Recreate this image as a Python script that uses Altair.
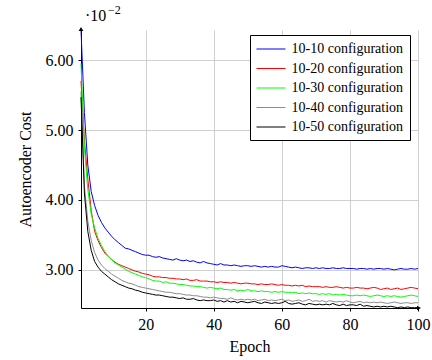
import altair as alt
import pandas as pd

epochs = list(range(1, 101))
series_names = ["10-10 configuration", "10-20 configuration", "10-30 configuration",
                "10-40 configuration", "10-50 configuration"]
series_colors = ["#0000ff", "#ff0000", "#00ff00", "#8c8c8c", "#000000"]

# values in units of 1e-2
cost_10_10 = [6.43, 5.25, 4.50, 4.12, 3.92, 3.78, 3.68, 3.60, 3.54, 3.48,
              3.43, 3.39, 3.35, 3.31, 3.30, 3.28, 3.26, 3.24, 3.22, 3.21,
              3.21, 3.19, 3.18, 3.19, 3.17, 3.16, 3.15, 3.14, 3.16, 3.14,
              3.13, 3.14, 3.12, 3.13, 3.11, 3.10, 3.12, 3.10, 3.09, 3.08,
              3.07, 3.09, 3.07, 3.07, 3.06, 3.07, 3.06, 3.05, 3.06, 3.06,
              3.05, 3.06, 3.05, 3.04, 3.05, 3.04, 3.05, 3.04, 3.04, 3.06,
              3.05, 3.04, 3.03, 3.04, 3.03, 3.02, 3.03, 3.03, 3.02, 3.03,
              3.02, 3.03, 3.02, 3.02, 3.03, 3.02, 3.02, 3.03, 3.02, 3.02,
              3.02, 3.01, 3.02, 3.02, 3.01, 3.02, 3.01, 3.02, 3.02, 3.01,
              3.02, 3.01, 3.00, 3.01, 3.02, 3.01, 3.01, 3.02, 3.01, 3.02]
cost_10_20 = [5.70, 4.85, 4.30, 3.85, 3.55, 3.42, 3.32, 3.24, 3.19, 3.15,
              3.11, 3.08, 3.06, 3.04, 3.02, 3.00, 2.98, 2.97, 2.95, 2.94,
              2.93, 2.91, 2.90, 2.90, 2.89, 2.89, 2.88, 2.88, 2.87, 2.87,
              2.86, 2.87, 2.85, 2.85, 2.86, 2.84, 2.84, 2.84, 2.83, 2.83,
              2.82, 2.83, 2.82, 2.82, 2.81, 2.82, 2.81, 2.80, 2.81, 2.81,
              2.80, 2.80, 2.79, 2.80, 2.79, 2.79, 2.80, 2.79, 2.78, 2.79,
              2.78, 2.78, 2.77, 2.78, 2.77, 2.78, 2.76, 2.77, 2.76, 2.76,
              2.76, 2.75, 2.76, 2.75, 2.75, 2.76, 2.75, 2.74, 2.75, 2.74,
              2.74, 2.75, 2.74, 2.74, 2.73, 2.74, 2.75, 2.74, 2.72, 2.73,
              2.74, 2.72, 2.73, 2.74, 2.72, 2.73, 2.74, 2.75, 2.74, 2.73]
cost_10_30 = [5.95, 4.75, 4.15, 3.80, 3.60, 3.45, 3.35, 3.26, 3.20, 3.14,
              3.10, 3.07, 3.04, 3.01, 2.98, 2.96, 2.94, 2.92, 2.90, 2.89,
              2.87, 2.85, 2.84, 2.84, 2.82, 2.83, 2.81, 2.81, 2.80, 2.79,
              2.79, 2.78, 2.77, 2.77, 2.76, 2.76, 2.75, 2.74, 2.75, 2.74,
              2.73, 2.74, 2.72, 2.72, 2.71, 2.72, 2.70, 2.71, 2.70, 2.72,
              2.70, 2.70, 2.69, 2.70, 2.69, 2.69, 2.68, 2.69, 2.68, 2.69,
              2.68, 2.68, 2.67, 2.68, 2.66, 2.67, 2.66, 2.67, 2.66, 2.66,
              2.65, 2.66, 2.65, 2.66, 2.64, 2.65, 2.64, 2.65, 2.64, 2.63,
              2.63, 2.64, 2.63, 2.64, 2.63, 2.62, 2.63, 2.64, 2.63, 2.62,
              2.63, 2.62, 2.63, 2.62, 2.61, 2.62, 2.63, 2.64, 2.63, 2.62]
cost_10_40 = [5.55, 4.20, 3.70, 3.42, 3.25, 3.14, 3.07, 3.02, 2.98, 2.94,
              2.91, 2.88, 2.85, 2.83, 2.81, 2.80, 2.78, 2.76, 2.75, 2.74,
              2.73, 2.72, 2.71, 2.70, 2.69, 2.68, 2.68, 2.67, 2.66, 2.66,
              2.65, 2.64, 2.64, 2.63, 2.63, 2.62, 2.61, 2.61, 2.60, 2.61,
              2.60, 2.59, 2.59, 2.58, 2.60, 2.58, 2.57, 2.58, 2.57, 2.58,
              2.57, 2.58, 2.56, 2.57, 2.58, 2.56, 2.57, 2.56, 2.57, 2.58,
              2.56, 2.57, 2.55, 2.56, 2.57, 2.55, 2.56, 2.58, 2.55, 2.56,
              2.55, 2.56, 2.54, 2.56, 2.55, 2.54, 2.55, 2.54, 2.56, 2.54,
              2.53, 2.54, 2.55, 2.53, 2.54, 2.53, 2.54, 2.53, 2.54, 2.53,
              2.52, 2.53, 2.54, 2.53, 2.52, 2.53, 2.53, 2.52, 2.53, 2.53]
cost_10_50 = [5.47, 4.10, 3.55, 3.28, 3.12, 3.04, 2.98, 2.94, 2.90, 2.86,
              2.83, 2.80, 2.78, 2.76, 2.74, 2.73, 2.71, 2.70, 2.68, 2.67,
              2.66, 2.65, 2.64, 2.64, 2.63, 2.62, 2.61, 2.61, 2.60, 2.59,
              2.60, 2.58, 2.58, 2.59, 2.57, 2.56, 2.57, 2.56, 2.56, 2.57,
              2.55, 2.56, 2.54, 2.56, 2.54, 2.55, 2.53, 2.55, 2.54, 2.53,
              2.54, 2.55, 2.53, 2.52, 2.54, 2.53, 2.52, 2.53, 2.52, 2.53,
              2.55, 2.52, 2.51, 2.52, 2.53, 2.51, 2.50, 2.52, 2.51, 2.50,
              2.51, 2.50, 2.51, 2.50, 2.52, 2.50, 2.49, 2.51, 2.49, 2.50,
              2.50, 2.49, 2.51, 2.48, 2.49, 2.48, 2.47, 2.48, 2.47, 2.48,
              2.47, 2.48, 2.47, 2.46, 2.47, 2.46, 2.47, 2.46, 2.46, 2.46]

x_ticks = [20, 40, 60, 80, 100]
y_ticks = [3, 4, 5, 6]

all_series = [cost_10_10, cost_10_20, cost_10_30, cost_10_40, cost_10_50]
rows = []
for i, (name, vals) in enumerate(zip(series_names, all_series)):
    for e, v in zip(epochs, vals):
        rows.append({"epoch": e, "cost": v, "config": name, "idx": i})
df = pd.DataFrame(rows)

W, H = 337, 278
FONT = "Liberation Serif"

lines = alt.Chart(df).mark_line(strokeWidth=1).encode(
    x=alt.X("epoch:Q",
            scale=alt.Scale(domain=[1, 100], nice=False, zero=False),
            axis=alt.Axis(values=x_ticks, title="Epoch", format="d", labelFlush=False)),
    y=alt.Y("cost:Q",
            scale=alt.Scale(domain=[2.455, 6.43], nice=False, zero=False),
            axis=alt.Axis(values=y_ticks, format=".2f", title="Autoencoder Cost",
                          labelFlush=False)),
    color=alt.Color("config:N",
                    scale=alt.Scale(domain=series_names, range=series_colors),
                    sort=series_names,
                    legend=alt.Legend(title=None, orient="none", legendX=169, legendY=5,
                                      symbolType="M-2,0L2,0", symbolSize=210,
                                      symbolStrokeWidth=1, symbolOffset=7,
                                      labelOffset=12.5,
                                      labelFont=FONT, labelFontSize=14,
                                      padding=6, rowPadding=4.5,
                                      strokeColor="black", fillColor="white",
                                      cornerRadius=0)),
    order=alt.Order("idx:Q"),
    detail="idx:N",
)

one = pd.DataFrame({"k": [0]})
arrow_up = alt.Chart(one).mark_point(shape="triangle-up", filled=True, color="black",
                                     size=22, opacity=1).encode(
    x=alt.value(0), y=alt.value(-1))
arrow_right = alt.Chart(one).mark_point(shape="triangle-right", filled=True, color="black",
                                        size=22, opacity=1).encode(
    x=alt.value(W + 1), y=alt.value(H))
exp_base = alt.Chart(one).mark_text(text="·10", font=FONT, fontSize=16, align="left",
                                    baseline="alphabetic", color="black").encode(
    x=alt.value(4), y=alt.value(-9))
exp_sup = alt.Chart(one).mark_text(text="−2", font=FONT, fontSize=12, align="left",
                                   baseline="alphabetic", color="black").encode(
    x=alt.value(27), y=alt.value(-16))

chart = alt.layer(lines, arrow_up, arrow_right, exp_base, exp_sup).properties(
    width=W, height=H,
    padding={"left": 81, "top": 30, "right": 14, "bottom": 52},
    autosize=alt.AutoSizeParams(type="none"),
    background="white",
).configure(font=FONT).configure_view(stroke=None).configure_axis(
    labelFont=FONT, titleFont=FONT, labelFontSize=16, titleFontSize=16,
    labelColor="black", titleColor="black", titleFontWeight="normal",
    domainColor="black", domainWidth=1, tickColor="black", tickSize=3,
    gridColor="#c4c4c4", gridWidth=0.8, labelPadding=5,
).configure_axisY(titlePadding=12).configure_axisX(titlePadding=6).configure_legend(
    labelFont=FONT, labelFontSize=14, labelColor="black"
)

chart.save("out.html", embed_options={"renderer": "svg", "actions": False})
